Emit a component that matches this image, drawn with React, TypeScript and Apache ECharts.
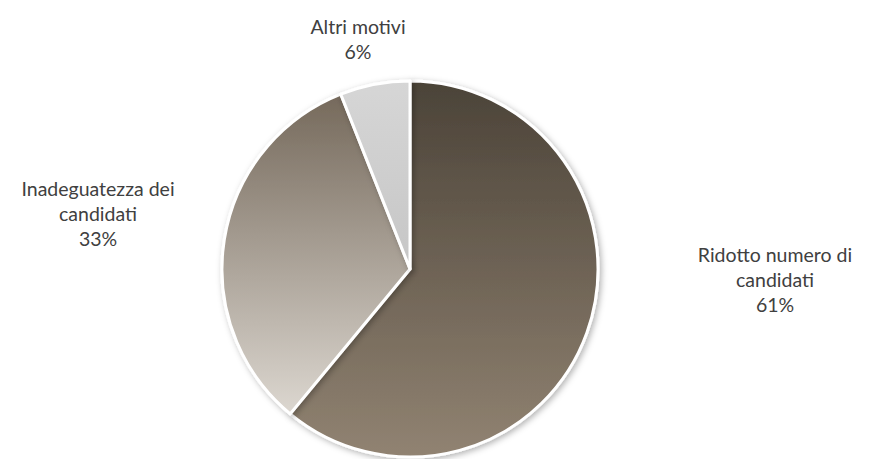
import React, { useEffect, useRef } from "react";
import * as echarts from "echarts";

const categories = ["Ridotto numero di\ncandidati", "Inadeguatezza dei\ncandidati", "Altri motivi"];
const values = [61, 33, 6];
const percentLabels = ["61%", "33%", "6%"];

const gradients = [
  ["#4b4338", "#918372"],
  ["#75695b", "#dcd7d0"],
  ["#d6d6d6", "#c6c6c6"],
];
const labelPos = [
  [775, 279],
  [98, 213],
  [358, 39],
];

export default function App() {
  const ref = useRef<HTMLDivElement>(null);
  useEffect(() => {
    document.body.style.margin = "0";
    const chart = echarts.init(ref.current!, null, { renderer: "svg" });
    chart.setOption({
      animation: false,
      backgroundColor: "#ffffff",
      series: [
        {
          type: "pie",
          center: [410, 269],
          radius: 188,
          startAngle: 90,
          clockwise: true,
          avoidLabelOverlap: false,
          itemStyle: {
            borderColor: "#ffffff",
            borderWidth: 3,
            shadowBlur: 6,
            shadowOffsetX: 2,
            shadowOffsetY: 2,
            shadowColor: "rgba(0,0,0,0.3)",
          },
          label: {
            show: true,
            position: "outside",
            fontFamily: "Lato, 'Open Sans', sans-serif",
            fontSize: 19.5,
            lineHeight: 25,
            color: "#404040",
            align: "center",
          },
          labelLine: { show: false },
          labelLayout: (p: any) => ({
            x: labelPos[p.dataIndex][0],
            y: labelPos[p.dataIndex][1],
            align: "center",
            verticalAlign: "middle",
          }),
          data: categories.map((name, i) => ({
            name,
            value: values[i],
            label: { formatter: name + "\n" + percentLabels[i] },
            itemStyle: {
              color: {
                type: "linear",
                x: 0,
                y: 0,
                x2: 0,
                y2: 1,
                colorStops: [
                  { offset: 0, color: gradients[i][0] },
                  { offset: 1, color: gradients[i][1] },
                ],
              },
            },
          })),
        },
      ],
    });
    return () => chart.dispose();
  }, []);
  return <div ref={ref} style={{ width: 870, height: 459 }} />;
}
